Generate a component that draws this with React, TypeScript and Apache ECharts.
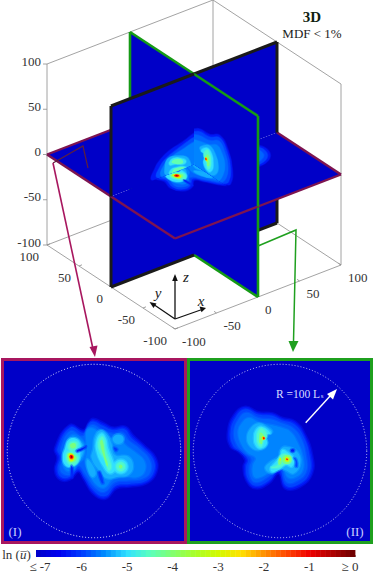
import React, { useEffect, useRef } from "react";
import * as echarts from "echarts";

type Contour = [number, number[][]];

const zTicks = [100, 50, 0, -50, -100];
const yTicks = [100, 50, 0, -50, -100];
const xTicks = [-100, -50, 0, 50, 100];
const colorbarTicks = [-7, -6, -5, -4, -3, -2, -1, 0];

const levelColors: [number, number[]][] = [
  [-7, [0, 0, 200]], [-6.5, [0, 0, 240]], [-6, [0, 60, 255]], [-5.5, [0, 140, 255]],
  [-5, [50, 225, 255]], [-4.5, [90, 255, 190]], [-4, [130, 255, 110]], [-3.5, [170, 255, 40]],
  [-3, [210, 250, 0]], [-2.5, [255, 225, 0]], [-2, [255, 145, 0]], [-1.5, [255, 70, 0]],
  [-1, [240, 0, 0]], [-0.5, [175, 0, 0]], [0, [105, 0, 0]],
];

// ln(u) iso-contours: plane z = 0, pairs are [x, y]
const horizontalContours: Contour[] = [
  [-6.3, [[-45,3],[-28,30],[-12,24],[-5,34],[-1,37],[11,32],[22,27],[36,28],[45,18],[57,7],[71,-8],[72,-24],[61,-37],[42,-41],[26,-43],[13,-55],[-1,-49],[-12,-32],[-18,-24],[-28,-33],[-39,-33],[-45,-22],[-42,-8]]],
  [-5.95, [[-42,3],[-27,27],[-12,21],[-6,31],[-1,34],[10,29],[22,24],[35,25],[43,15],[55,5],[68,-9],[69,-24],[59,-35],[41,-38],[25,-40],[13,-52],[0,-46],[-11,-30],[-18,-21],[-28,-30],[-38,-30],[-42,-21],[-39,-7]]],
  [-5.75, [[-38,3],[-27,23],[-13,17],[-7,27],[-1,30],[8,25],[21,20],[33,21],[40,12],[52,3],[64,-10],[65,-24],[56,-32],[40,-34],[24,-36],[12,-47],[1,-42],[-9,-28],[-18,-17],[-27,-27],[-36,-26],[-39,-20],[-36,-7]]],
  [-5.55, [[-34,3],[-26,18],[-14,13],[-10,4],[-12,-8],[-17,-13],[-26,-23],[-34,-20],[-36,-8]]],
  [-5.55, [[-8,24],[-1,26],[7,20],[20,15],[30,14],[37,6],[48,-2],[58,-12],[58,-24],[50,-30],[38,-30],[22,-32],[12,-42],[2,-38],[-6,-24],[-10,-12],[-8,0],[-9,12]]],
  [-5.3, [[-30,4],[-24,14],[-15,10],[-12,3],[-14,-6],[-20,-12],[-26,-18],[-32,-16],[-31,-7]]],
  [-5.3, [[1,16.5],[7,24],[14.6,20],[20,9],[24,-4.6],[39.6,-6.5],[45,-18],[39.6,-27.7],[28,-29.6],[14.6,-31.5],[7,-24],[-2.7,-8.5],[-0.8,3]]],
  [-5.3, [[-8,-10],[-3,-14],[2,-26],[-2,-30],[-7,-22]]],
  [-5.3, [[24,18],[32,18],[34,12],[28,8],[22,12]]],
  [-5, [[-33.4,3],[-29.6,12.7],[-22,14.6],[-16,8.8],[-16,-2.7],[-18,-12.3],[-25.8,-18],[-33.4,-16],[-36,-6.5]]],
  [-5, [[3,12.7],[8.8,20.4],[13.8,14.6],[16.5,3],[22.3,-12.3],[24,-22],[17.7,-25.8],[10.8,-18],[3,-0.8]]],
  [-5, [[30.8,-10],[36.5,-12.3],[38.8,-18],[36.5,-23.7],[30.8,-26],[25,-23.7],[22.8,-18],[25,-12.3]]],
  [-4.6, [[5,9],[8.8,16.5],[12,12.7],[13.8,1],[18.5,-12.3],[19.6,-20],[16.5,-22],[12.7,-10.4],[7,-1]]],
  [-4.6, [[30.8,-13],[34.3,-14.5],[35.8,-18],[34.3,-21.5],[30.8,-23],[27.3,-21.5],[25.8,-18],[27.3,-14.5]]],
  [-4.6, [[-29.6,5],[-27,10],[-20,10],[-19.2,5],[-23,1],[-27.7,1]]],
  [-4.6, [[-32,-4.6],[-27.7,-0.8],[-22,-2.7],[-18,-8.5],[-23,-16],[-29.6,-14]]],
  [-4.1, [[-27,8],[-22,9],[-21,5],[-24,3],[-27,4]]],
  [-4.1, [[7,10],[9,13],[11,8],[13,-5],[16,-15],[15,-18],[11,-6]]],
  [-4.1, [[30.8,-15.5],[33,-18],[30.8,-20.5],[28.5,-18]]],
  [-4.1, [[-31,-4],[-27,-2],[-22,-5],[-20,-9],[-24,-13],[-29,-12]]],
  [-3.1, [[-29,-3.5],[-26,-3],[-23,-6],[-23,-10],[-27,-12],[-29,-8]]],
  [-2.1, [[-28,-5],[-25,-4],[-23,-7],[-25,-10],[-28,-9]]],
  [-1.1, [[-27.5,-5],[-25,-5],[-24,-7.5],[-26,-9],[-28,-7.5]]],
  [-0.2, [[-26.5,-6],[-25.5,-6],[-25.5,-7.5],[-26.5,-7.5]]],
  [-6.2, [[-20,0.5],[-12,4],[-9,5.5],[-11,3],[-19,-1]]],
  [-6.2, [[-26,-17],[-24.5,-20],[-25,-31],[-26.5,-24]]],
  [-6.0, [[5,-25],[7,-24],[11,-37],[9,-37]]],
  [-6.0, [[23,4],[27,2],[25,0]]],
];

const greenContours: Contour[] = [
  [-6.3, [[-60,22],[-53,41.5],[-40,51],[-24.6,44.6],[-9,43.4],[2.3,38.4],[17.7,33.8],[29,18.5],[37,-4.6],[37,-25.8],[23.4,-41],[6,-43],[-1.5,-25.8],[-13,-37.3],[-28.4,-43],[-39,-33.4],[-42,-18],[-40,-10.4],[-47.7,-0.8],[-57,5]]],
  [-5.95, [[-57,22],[-51,39],[-40,48],[-25,42],[-9,40.5],[2,35.5],[16,31],[27,17],[34,-5],[34,-25],[22,-38],[7,-40],[-1,-22],[-13,-34],[-28,-40],[-37,-32],[-39,-18],[-37,-10],[-45,-1],[-54,6]]],
  [-5.75, [[-53,22],[-48,36],[-39,44],[-25,38],[-9,36],[2,32],[14,27],[24,15],[30,-6],[30,-24],[20,-34],[8,-36],[0,-18],[-13,-29],[-28,-36],[-34,-30],[-35,-18],[-33,-9],[-41,-2],[-50,8]]],
  [-5.55, [[-48,22],[-44,32],[-36,38],[-24,33],[-10,30],[1,27],[12,22],[20,10],[26,-7],[26,-22],[18,-30],[9,-30],[1,-14],[-13,-25],[-27,-31],[-31,-27],[-31,-16],[-28,-8],[-37,-2],[-45,9]]],
  [-5.3, [[-38,14.6],[-34,26],[-24.6,32],[-15,28],[-9,22],[-17,18.5],[-15,7],[-24.6,1],[-34,5]]],
  [-5.3, [[-17,-20],[-11,-12.3],[-1.5,-6.5],[0.4,1],[6,5],[19.6,-0.8],[23.4,-14],[15.8,-25.8],[6,-22],[-1.5,-20],[-9,-25.8]]],
  [-5, [[-30,14.6],[-28,24],[-20.8,28],[-11,20.4],[-17,18.5],[-15,8.5],[-22.7,2.7],[-28.4,7]]],
  [-5, [[-11,-20],[-5.4,-13],[0.4,-6.5],[2.3,1],[8,-0.8],[15.8,-8.5],[13.8,-18],[6,-16],[-1.5,-22],[-9,-24]]],
  [-4.6, [[-26.5,16.5],[-25.4,22],[-20.8,26],[-15,17.7],[-18.8,12.7],[-21.5,5],[-25.4,8.5]]],
  [-4.6, [[-10,-19],[-3,-16],[-1.5,-9],[1,-5],[8,-4],[13,-8.5],[12,-14],[6,-15],[-1,-19]]],
  [-4.1, [[-24,17],[-23,21],[-20,20],[-18,16],[-20,12],[-21,8],[-24,10]]],
  [-4.1, [[-2,-12],[0,-7],[2,-13],[-1,-16]]],
  [-4.1, [[8,-4.5],[12.5,-6],[13.5,-10],[12,-13.5],[8,-15],[4,-13.5],[2.5,-10],[4,-6]]],
  [-3.1, [[-21,16.5],[-19,17],[-17,15],[-18,13],[-21,13]]],
  [-3.1, [[8,-6.5],[10.5,-8],[11,-10],[10,-12],[8,-12.5],[6,-11.5],[5.5,-9.5],[6,-7.5]]],
  [-3.1, [[-1,-10],[1,-8],[1,-11]]],
  [-2.1, [[-20,16],[-18,16],[-17,14.5],[-18.5,13],[-20,14]]],
  [-2.1, [[8,-8],[9.5,-9],[9.5,-10.5],[8,-11],[6.7,-10],[7,-8.5]]],
  [-1.1, [[-19.5,15.5],[-18,15.5],[-17.7,14],[-19,13.5]]],
  [-1.1, [[8,-8.8],[9,-9.5],[8.5,-10.5],[7.5,-10],[7.5,-9]]],
  [-6.3, [[13,1.5],[16,1.5],[16,-0.5],[13,-0.5]]],
  [-5.9, [[16,-8],[19,-10],[20,-18],[18,-18],[18,-12]]],
];

// ln(u) iso-contours read from the black plane y = 0, pairs are [x, z]
const blackContours: Contour[] = [
  [-6.3, [[-51,1],[-47,12.4],[-41,19.5],[-29,26],[-13,30],[0,34.5],[10,36],[10,-5],[-30,-3]]],
  [-5.9, [[-45,2],[-41,12],[-33,19],[-20,24],[-8,28],[0,30],[10,30],[10,-4],[-30,-3]]],
  [-5.6, [[-40,2],[-37,11],[-27,18],[-12,22],[0,25],[10,25],[10,-3],[-30,-3]]],
  [-5.3, [[-35,10],[-31,17.8],[-19,16.4],[-7,9.3],[-5.7,-6],[-33,0]]],
  [-4.9, [[-29.7,12.9],[-24.9,15.7],[-14.8,12],[-9.6,7.3],[-12.9,4.8],[-22.9,8.3],[-29,9.7]]],
  [-4.9, [[-28,3.9],[-20.9,4.3],[-10.8,1.4],[-6.9,-3.6],[-8.8,-8.5],[-29,-1.3]]],
  [-4.4, [[-27,12],[-24,14],[-17,12],[-13,8],[-15,6],[-23,9]]],
  [-4.4, [[-25,3],[-20,3.5],[-12,1],[-9,-3],[-12,-6],[-26,-3]]],
  [-3.3, [[-25,-1],[-20,0],[-15,-1],[-18,-4],[-25,-4]]],
];

const F = [175, 329];
const UX = [0.83, -0.32];
const UY = [-0.64, -0.42];
const UZ = [0, -0.905];
const project = (x: number, y: number, z: number) => [
  F[0] + (x + 100) * UX[0] + (y + 100) * UY[0] + (z + 100) * UZ[0],
  F[1] + (x + 100) * UX[1] + (y + 100) * UY[1] + (z + 100) * UZ[1],
];

const colorOf = (v: number) => {
  if (v <= levelColors[0][0]) return `rgb(${levelColors[0][1].join(",")})`;
  for (let i = 1; i < levelColors.length; i++) {
    if (v <= levelColors[i][0]) {
      const [a, ca] = levelColors[i - 1];
      const [b, cb] = levelColors[i];
      const t = (v - a) / (b - a);
      return `rgb(${ca.map((c, k) => Math.round(c + (cb[k] - c) * t)).join(",")})`;
    }
  }
  return "rgb(105,0,0)";
};

const FRAME_CRIMSON = "#a8175f";
const EDGE_CRIMSON = "#7d1450";
const FRAME_GREEN = "#1fa01f";
const EDGE_GREEN = "#159a15";
const EDGE_BLACK = "#1a1a1a";
const BOX = "#8c8c8c";
const SERIF = "'Liberation Serif', serif";

const contourEl = (c: Contour, map: (p: number[]) => number[], soft: number) => ({
  type: "polygon",
  shape: { points: c[1].map(map), smooth: 0.45 },
  style: c[0] < -4.5
    ? { fill: colorOf(c[0]), stroke: colorOf(c[0]), strokeOpacity: 0.45, lineWidth: soft }
    : { fill: colorOf(c[0]) },
  silent: true,
});
const lineEl = (pts: number[][], stroke: string, lineWidth: number) => ({
  type: "polyline",
  shape: { points: pts },
  style: { stroke, lineWidth, fill: "none" },
  silent: true,
});
const textEl = (text: string, x: number, y: number, font: string, fill = "#333", align = "center") => ({
  type: "text",
  x,
  y,
  style: { text, font, fill, align, verticalAlign: "middle" },
  silent: true,
});
const headEl = (pts: number[][], fill: string) => ({
  type: "polygon",
  shape: { points: pts },
  style: { fill },
  silent: true,
});

type Piece = { corners: number[][]; contours: Contour[]; map: (a: number, b: number) => number[]; edges: number[][][]; color: string; width: number };

const seg = (a: number[], b: number[]) => [project(a[0], a[1], a[2]), project(b[0], b[1], b[2])];
const green = (ys: number, zs: number): Piece => {
  const yo = 100 * ys, zo = 100 * zs;
  return {
    corners: [[0, 0, 0], [0, yo, 0], [0, yo, zo], [0, 0, zo]],
    contours: greenContours,
    map: (a, b) => project(0, a, b),
    edges: [seg([0, yo, 0], [0, yo, zo]), seg([0, yo, zo], [0, 0, zo])],
    color: EDGE_GREEN,
    width: 2.6,
  };
};
const black = (xs: number, zs: number): Piece => {
  const xo = 100 * xs, zo = 100 * zs;
  return {
    corners: [[0, 0, 0], [xo, 0, 0], [xo, 0, zo], [0, 0, zo]],
    contours: blackContours,
    map: (a, b) => project(a, 0, b),
    edges: [seg([xo, 0, 0], [xo, 0, zo]), seg([xo, 0, zo], [0, 0, zo])],
    color: EDGE_BLACK,
    width: 3,
  };
};
const flat = (xs: number, ys: number): Piece => {
  const xo = 100 * xs, yo = 100 * ys;
  return {
    corners: [[0, 0, 0], [xo, 0, 0], [xo, yo, 0], [0, yo, 0]],
    contours: horizontalContours,
    map: (a, b) => project(a, b, 0),
    edges: [seg([xo, 0, 0], [xo, yo, 0]), seg([xo, yo, 0], [0, yo, 0])],
    color: EDGE_CRIMSON,
    width: 2.4,
  };
};

const pieces: Piece[] = [
  green(1, -1), black(1, -1), green(-1, -1), black(-1, -1),
  flat(1, 1), flat(1, -1), flat(-1, 1), flat(-1, -1),
  green(1, 1), black(1, 1), green(-1, 1), black(-1, 1),
];

const sceneBuilders: ((c: (p: number[]) => number[]) => any)[] = [];

// box lines behind the planes
sceneBuilders.push((c) => ({
  type: "group",
  children: [
    lineEl([project(-100, 100, 100), project(100, 100, 100), project(100, -100, 100)].map(c), BOX, 0.8),
    lineEl([project(100, 100, 100), project(100, 100, -100)].map(c), BOX, 0.8),
    lineEl([project(-100, 100, 100), project(-100, 100, -100), project(100, 100, -100), project(100, -100, -100), project(100, -100, 100)].map(c), BOX, 0.8),
    lineEl([project(-100, 100, -100), project(-100, -100, -100), project(100, -100, -100)].map(c), BOX, 0.8),
    ...zTicks.map((t) => lineEl([project(-100, 100, t), [project(-100, 100, t)[0] - 4, project(-100, 100, t)[1]]].map(c), BOX, 0.8)),
    ...yTicks.map((t) => lineEl([project(-100, t, -100), [project(-100, t, -100)[0] + 3, project(-100, t, -100)[1] - 1.2]].map(c), BOX, 0.8)),
    ...xTicks.map((t) => lineEl([project(t, -100, -100), [project(t, -100, -100)[0] - 2.5, project(t, -100, -100)[1] - 1.7]].map(c), BOX, 0.8)),
  ],
}));

pieces.forEach((p) => {
  sceneBuilders.push((c) => {
    const corners = p.corners.map((k) => c(project(k[0], k[1], k[2])));
    return {
      type: "group",
      children: [
        {
          type: "group",
          clipPath: { type: "polygon", shape: { points: corners } },
          children: [
            headEl(corners, colorOf(-7)),
            ...p.contours.map((ct) => contourEl(ct, (q) => c(p.map(q[0], q[1])), 1.6)),
          ],
        },
        ...p.edges.map((e) => lineEl(e.map(c), p.color, p.width)),
      ],
    };
  });
});

// annotations
sceneBuilders.push((c) => {
  const P = (x: number, y: number) => c([x, y]);
  return {
    type: "group",
    children: [
      ...zTicks.map((t) => textEl(String(t), project(-100, 100, t)[0] - 6, project(-100, 100, t)[1] - 3, `13px ${SERIF}`, "#333", "right")),
      ...yTicks.map((t) => textEl(String(t), project(-100, t, -100)[0] - 8, project(-100, t, -100)[1] + 11, `13px ${SERIF}`, "#333", "right")),
      ...xTicks.map((t) => textEl(String(t), project(t, -100, -100)[0] + 7, project(t, -100, -100)[1] + 12, `13px ${SERIF}`, "#333", "left")),
      lineEl([P(88, 168), P(83, 146), P(53, 163)], "#5e1f3c", 1.2),
      lineEl([P(53, 163), P(93, 349)], FRAME_CRIMSON, 1.6),
      headEl([P(95, 357), P(89.5, 347), P(97.5, 345.5)], FRAME_CRIMSON),
      lineEl([P(258, 246), P(296, 230), P(293.5, 342)], FRAME_GREEN, 1.5),
      headEl([P(293, 352), P(288.5, 341), P(298.5, 341)], FRAME_GREEN),
      lineEl([P(175, 319), P(175, 278)], "#111", 1.3),
      headEl([P(175, 274), P(172.2, 281), P(177.8, 281)], "#111"),
      lineEl([P(175, 319), P(153, 304)], "#111", 1.3),
      headEl([P(149.5, 302), P(156.5, 303.5), P(153.5, 308)], "#111"),
      lineEl([P(175, 319), P(202, 309.5)], "#111", 1.3),
      headEl([P(206, 308), P(199.5, 306.5), P(201.5, 312.2)], "#111"),
      textEl("z", 186, 277, `italic 15px ${SERIF}`, "#222"),
      textEl("y", 158, 293, `italic 15px ${SERIF}`, "#222"),
      textEl("x", 201, 301, `italic 15px ${SERIF}`, "#222"),
      textEl("3D", 312, 17, `bold 15px ${SERIF}`, "#111f11"),
      textEl("MDF < 1%", 312, 33, `13px ${SERIF}`, "#222"),
      textEl("(I)", 15, 531, `13px ${SERIF}`, "#c8ccff"),
      textEl("(II)", 355, 531, `13px ${SERIF}`, "#c8ccff"),
      textEl("R =100 L", 298, 393.5, `11.5px ${SERIF}`, "#d8dcff"),
      textEl("s", 322, 396, `7px ${SERIF}`, "#d8dcff"),
      lineEl([P(305.7, 422.7), P(331, 395)], "#fff", 1.4),
      headEl([P(337, 389), P(327, 394), P(333, 399.5)], "#fff"),
      {
        type: "text",
        x: 16.5,
        y: 554,
        style: {
          text: "ln ({i|u\u0305})",
          font: `13px ${SERIF}`,
          fill: "#333",
          align: "center",
          verticalAlign: "middle",
          rich: { i: { font: `italic 13px ${SERIF}`, fill: "#333" } },
        },
        silent: true,
      },
    ],
  };
});

const panelSeries = (contours: Contour[], idx: number) => ({
  type: "custom",
  coordinateSystem: "cartesian2d",
  xAxisIndex: idx,
  yAxisIndex: idx,
  z: 2,
  silent: true,
  data: contours.map((_, i) => [i, 0]),
  renderItem: (params: any, api: any) => contourEl(contours[params.dataIndex], (p) => api.coord(p), 2.6),
});

const ringSeries = (idx: number, opacity: number) => ({
  type: "custom",
  coordinateSystem: "cartesian2d",
  xAxisIndex: idx,
  yAxisIndex: idx,
  z: 3,
  silent: true,
  data: [[0, 0]],
  renderItem: (_: any, api: any) => {
    const [cx, cy] = api.coord([0, 0]);
    const r = api.coord([100, 0])[0] - cx;
    return {
      type: "circle",
      shape: { cx, cy, r },
      style: { fill: "none", stroke: "#fff", lineWidth: 1, lineDash: [1, 2], opacity },
      silent: true,
    };
  },
});

const BAR_STEP = 7 / 64;
const barValues = Array.from({ length: 64 }, (_, i) => -7 + i * BAR_STEP);

const hiddenAxis = (gridIndex: number, min: number, max: number, inverse = false) => ({
  type: "value" as const,
  gridIndex,
  min,
  max,
  inverse,
  show: false,
});

const grids = [
  { left: 0, top: 0, width: 374, height: 573, show: false },
  { left: 2.5, top: 359.5, width: 183, height: 183, show: true, borderWidth: 3, borderColor: FRAME_CRIMSON, backgroundColor: colorOf(-7) },
  { left: 188.5, top: 359.5, width: 183, height: 183, show: true, borderWidth: 3, borderColor: FRAME_GREEN, backgroundColor: colorOf(-7) },
  { left: 36, top: 550, width: 319, height: 7, show: false },
];

export default function App() {
  const ref = useRef<HTMLDivElement>(null);
  useEffect(() => {
    document.body.style.margin = "0";
    document.body.style.background = "#fff";
    const chart = echarts.init(ref.current!, null, { renderer: "svg" });
    chart.setOption({
      animation: false,
      backgroundColor: "#fff",
      grid: grids,
      xAxis: [
        hiddenAxis(0, 0, 374),
        hiddenAxis(1, -105.5, 105.5),
        hiddenAxis(2, -105.5, 105.5),
        {
          type: "value",
          gridIndex: 3,
          min: -7,
          max: 0,
          interval: 1,
          position: "bottom",
          axisLine: { show: false },
          splitLine: { show: false },
          axisTick: { show: true, inside: true, length: 2, lineStyle: { color: "#555", width: 0.6 } },
          axisLabel: {
            margin: 3,
            color: "#333",
            fontFamily: "Liberation Serif",
            fontSize: 13,
            customValues: colorbarTicks,
            formatter: (v: number) => (v === -7 ? "{a|\u2264 -7}" : v === 0 ? "{b|\u2265 0}" : String(v)),
            rich: {
              a: { padding: [0, 0, 0, 8], fontFamily: "Liberation Serif", fontSize: 13, color: "#333" },
              b: { padding: [0, 10, 0, 0], fontFamily: "Liberation Serif", fontSize: 13, color: "#333" },
            },
          },
        },
      ],
      yAxis: [
        hiddenAxis(0, 0, 573, true),
        hiddenAxis(1, -105.5, 105.5),
        hiddenAxis(2, -105.5, 105.5),
        hiddenAxis(3, 0, 1),
      ],
      series: [
        panelSeries(horizontalContours, 1),
        ringSeries(1, 0.9),
        panelSeries(greenContours, 2),
        ringSeries(2, 0.75),
        {
          type: "custom",
          coordinateSystem: "cartesian2d",
          xAxisIndex: 3,
          yAxisIndex: 3,
          z: 2,
          silent: true,
          data: barValues.map((v) => [v, 0]),
          renderItem: (params: any, api: any) => {
            const v = barValues[params.dataIndex];
            const a = api.coord([v, 1]);
            const b = api.coord([v + BAR_STEP, 0]);
            return {
              type: "rect",
              shape: { x: a[0], y: a[1], width: b[0] - a[0] + 0.4, height: b[1] - a[1] },
              style: { fill: colorOf(v + BAR_STEP / 2) },
              silent: true,
            };
          },
        },
        {
          type: "custom",
          coordinateSystem: "cartesian2d",
          xAxisIndex: 0,
          yAxisIndex: 0,
          z: 5,
          silent: true,
          data: sceneBuilders.map((_, i) => [i, 0]),
          renderItem: (params: any, api: any) => sceneBuilders[params.dataIndex]((p) => api.coord(p)),
        },
      ],
    });
    return () => chart.dispose();
  }, []);
  return <div ref={ref} style={{ width: 374, height: 573 }} />;
}
